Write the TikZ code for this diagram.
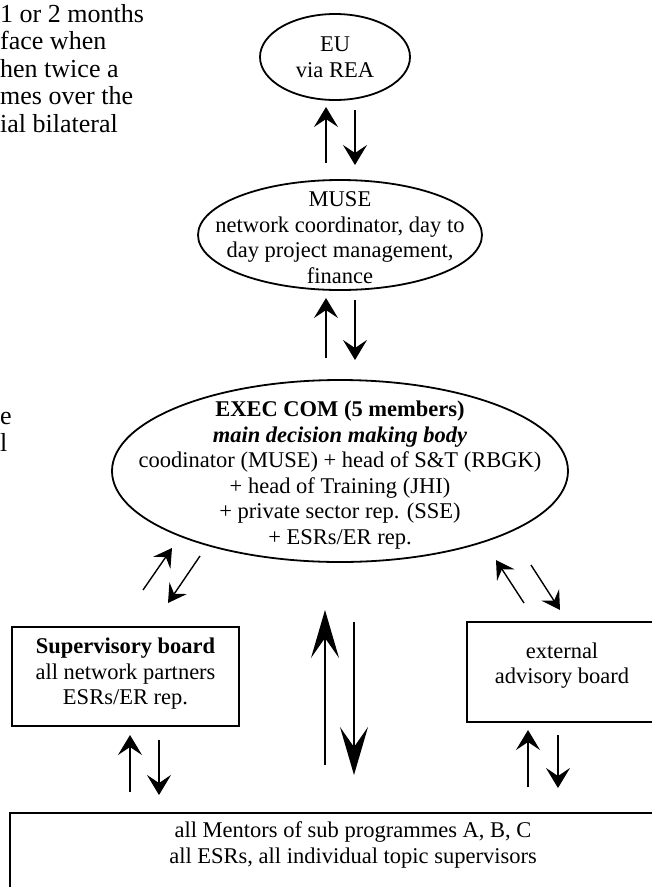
\documentclass[tikz,border=0pt]{standalone}
\usepackage{fontspec}
\setmainfont{Liberation Serif}
\usetikzlibrary{arrows.meta, shapes.geometric}
\tikzstyle{oval_node} = [
    ellipse,
    draw=black,
    line width=1.8pt,
    inner sep=0pt,
    outer sep=0pt
]
\tikzstyle{box_node} = [
    rectangle,
    draw=black,
    line width=2.2pt,
    inner sep=0pt,
    outer sep=0pt
]
\tikzstyle{inner_text} = [
    font=\fontsize{22.5}{25.5}\selectfont,
    align=center,
    inner sep=0pt
]
\tikzstyle{side_text} = [
    font=\fontsize{26}{27.5}\selectfont,
    align=left,
    inner sep=0pt
]
\tikzstyle{small_arrow} = [
    line width=1.4pt,
    -{Stealth[length=20pt, width=24pt, inset=8pt]}
]
\tikzstyle{diag_arrow} = [
    line width=1.4pt,
    -{Stealth[length=18pt, width=21pt, inset=7pt]}
]
\tikzstyle{big_arrow} = [
    line width=1.5pt,
    -{Stealth[length=48pt, width=28pt, inset=20pt]}
]

\begin{document}
\begin{tikzpicture}[x=1pt, y=-1pt]
\useasboundingbox (0,0) rectangle (652,887);

% text running past the figure
\node [side_text, anchor=north west] (note) at (0,4)
    {1 or 2 months\\face when\\hen twice a\\mes over the\\ial bilateral};
\node [side_text, anchor=north west] (note2) at (0,412)
    {e\\l};

\node [oval_node, minimum width=150pt, minimum height=86pt,
    label={[inner_text]center:{EU\\via REA}}] (eu) at (335,57) {};
\node [oval_node, minimum width=284pt, minimum height=110pt,
    label={[inner_text, yshift=-2.5pt]center:{MUSE\\network coordinator, day to\\day project management,\\finance}}] (muse) at (340,235) {};
\node [oval_node, minimum width=456pt, minimum height=182pt,
    label={[inner_text, yshift=-4pt]center:{\textbf{EXEC COM (5 members)}\\\textbf{\textit{main decision making body}}\\coodinator (MUSE) + head of S\&T (RBGK)\\+ head of Training (JHI)\\+ private sector rep. (SSE)\\+ ESRs/ER rep.}}] (exec) at (340,471) {};

\node [box_node, minimum width=227pt, minimum height=99pt,
    label={[inner_text, yshift=2.5pt]center:{\textbf{Supervisory board}\\all network partners\\ESRs/ER rep.}}] (sup) at (125.5,676.5) {};
\node [box_node, minimum width=188pt, minimum height=100pt,
    label={[inner_text, xshift=1pt, yshift=6.5pt]center:{external\\advisory board}}] (ext) at (561,672) {};
\node [box_node, minimum width=690pt, minimum height=97pt,
    label={[inner_text, xshift=-2pt, yshift=16.5pt]center:{all Mentors of sub programmes A, B, C\\all ESRs, all individual topic supervisors}}] (all) at (355,861.5) {};

% EU <-> MUSE
\draw [small_arrow] ([xshift=-14pt, yshift=17pt]muse.north) -- ([xshift=-9pt, yshift=-7pt]eu.south);
\draw [small_arrow] ([xshift=20pt, yshift=-10pt]eu.south) -- ([xshift=15pt, yshift=15pt]muse.north);
% MUSE <-> EXEC COM
\draw [small_arrow] ([xshift=-14pt, yshift=22pt]exec.north) -- ([xshift=-14pt, yshift=-8pt]muse.south);
\draw [small_arrow] ([xshift=15pt, yshift=-10pt]muse.south) -- ([xshift=15pt, yshift=20pt]exec.north);
% EXEC COM <-> boards
\draw [diag_arrow] ([xshift=17.5pt, yshift=37pt]sup.north) -- ([xshift=-168pt, yshift=14pt]exec.south);
\draw [diag_arrow] ([xshift=-140pt, yshift=6pt]exec.south) -- ([xshift=42.5pt, yshift=24pt]sup.north);
\draw [diag_arrow] ([xshift=-37pt, yshift=19pt]ext.north) -- ([xshift=156pt, yshift=2pt]exec.south);
\draw [diag_arrow] ([xshift=191pt, yshift=-3pt]exec.south) -- ([xshift=-1pt, yshift=12pt]ext.north);
% EXEC COM <-> all
\draw [big_arrow] ([xshift=-30pt, yshift=48pt]all.north) -- ([xshift=-15pt, yshift=-48pt]exec.south);
\draw [big_arrow] ([xshift=14pt, yshift=-60pt]exec.south) -- ([xshift=-1pt, yshift=38pt]all.north);
% boards <-> all
\draw [small_arrow] ([xshift=-225pt, yshift=21pt]all.north) -- ([xshift=4.5pt, yshift=-9pt]sup.south);
\draw [small_arrow] ([xshift=33.5pt, yshift=-14pt]sup.south) -- ([xshift=-196pt, yshift=18pt]all.north);
\draw [small_arrow] ([xshift=173pt, yshift=26pt]all.north) -- ([xshift=-33pt, yshift=-8pt]ext.south);
\draw [small_arrow] ([xshift=-3pt, yshift=-13pt]ext.south) -- ([xshift=203pt, yshift=25pt]all.north);
\end{tikzpicture}
\end{document}
